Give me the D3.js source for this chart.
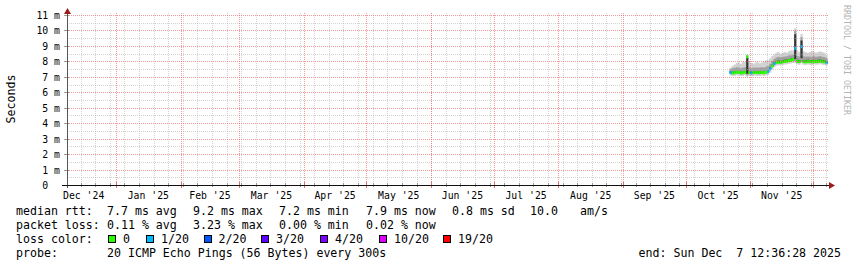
<!DOCTYPE html>
<html>
<head>
<meta charset="utf-8">
<script src="https://cdn.jsdelivr.net/npm/d3@7"></script>
<style>
html, body { margin: 0; padding: 0; background: #fff; }
svg { display: block; font-family: "DejaVu Sans Mono", monospace; }
text { white-space: pre; }
.txt { opacity: 0.999; }
</style>
</head>
<body>
<svg id="chart"></svg>
<script>
// graph window and first data day (UTC)
const graphStart = Date.UTC(2024, 11, 8, 6, 40);
const graphEnd = Date.UTC(2025, 11, 8, 10, 20);
const firstDay = Date.UTC(2025, 9, 22);

// daily values, ms (Oct 22 .. Dec 7 2025)
const median = [7.28,7.25,7.27,7.30,7.28,7.25,7.27,7.30,8.30,7.27,7.25,7.27,7.28,7.26,7.27,7.28,7.27,7.30,7.35,7.52,7.70,7.85,7.93,7.95,7.93,7.97,8.00,8.02,8.05,8.08,8.12,8.85,8.00,7.98,8.95,7.98,7.97,8.00,7.98,7.97,8.00,7.98,8.00,8.02,7.98,7.97,7.92];
const pingMin = [7.08,7.05,7.06,7.10,7.08,7.05,7.06,7.10,7.00,7.06,7.05,7.06,7.08,7.05,7.06,7.08,7.06,7.10,7.12,7.28,7.46,7.62,7.72,7.75,7.74,7.77,7.80,7.82,7.84,7.86,7.90,7.90,7.80,7.78,7.88,7.78,7.77,7.80,7.78,7.77,7.80,7.78,7.80,7.82,7.78,7.77,7.72];
const p20 = [7.20,7.17,7.19,7.22,7.20,7.17,7.19,7.22,7.10,7.19,7.17,7.19,7.20,7.18,7.19,7.20,7.19,7.22,7.27,7.44,7.62,7.77,7.85,7.87,7.85,7.89,7.92,7.94,7.97,8.00,8.04,8.02,7.92,7.90,8.02,7.90,7.89,7.92,7.90,7.89,7.92,7.90,7.92,7.94,7.90,7.89,7.84];
const p40 = [7.26,7.23,7.25,7.28,7.26,7.23,7.25,7.28,7.20,7.25,7.23,7.25,7.26,7.24,7.25,7.26,7.25,7.28,7.33,7.50,7.68,7.83,7.91,7.93,7.91,7.95,7.98,8.00,8.03,8.06,8.10,8.15,7.98,7.96,8.20,7.96,7.95,7.98,7.96,7.95,7.98,7.96,7.98,8.00,7.96,7.95,7.90];
const p60 = [7.35,7.32,7.34,7.37,7.35,7.32,7.34,7.37,8.22,7.34,7.32,7.34,7.35,7.33,7.34,7.35,7.34,7.37,7.43,7.60,7.78,7.93,8.02,8.05,8.03,8.07,8.10,8.12,8.15,8.18,8.22,9.75,8.10,8.08,9.35,8.08,8.07,8.10,8.08,8.07,8.10,8.08,8.10,8.12,8.08,8.07,8.02];
const p80 = [7.50,7.55,7.58,7.62,7.60,7.55,7.60,7.62,8.36,7.60,7.55,7.58,7.60,7.58,7.60,7.62,7.60,7.65,7.70,7.85,8.02,8.15,8.25,8.30,8.27,8.30,8.32,8.33,8.38,8.40,8.42,9.98,8.35,8.32,9.58,8.33,8.30,8.32,8.30,8.32,8.33,8.30,8.32,8.35,8.30,8.28,8.20];
const pingMax = [7.60,7.72,7.80,7.90,7.95,7.85,7.98,7.95,8.45,8.00,7.90,7.85,7.92,7.95,7.88,7.92,7.97,8.05,8.08,8.20,8.35,8.45,8.55,8.60,8.50,8.55,8.60,8.55,8.65,8.70,8.70,10.15,8.70,8.60,9.78,8.65,8.60,8.55,8.60,8.65,8.60,8.55,8.60,8.65,8.60,8.55,8.40];
const loss = [1,0,0,0,0,0,0,0,0,0,1,0,0,0,0,0,0,0,1,1,0,1,0,0,0,0,0,0,0,0,0,1,0,0,1,0,0,0,0,0,0,0,0,0,0,0,1];

const lossLabels = ["0", "1/20", "2/20", "3/20", "4/20", "10/20", "19/20"];
const lossColors = ["#26ff00", "#00b8ff", "#0059ff", "#5e00ff", "#7e00ff", "#dd00ff", "#ff0000"];

const yTicks = [0,1,2,3,4,5,6,7,8,9,10,11];
const yTickLabels = ["0  ","1 m","2 m","3 m","4 m","5 m","6 m","7 m","8 m","9 m","10 m","11 m"];

const rttStats = ["7.7 ms avg", "9.2 ms max", "7.2 ms min", "7.9 ms now", "0.8 ms sd", "10.0", "am/s"];
const lossStats = ["0.11 % avg", "3.23 % max", "0.00 % min", "0.02 % now"];
const probeText = "20 ICMP Echo Pings (56 Bytes) every 300s";
const endText = "end: Sun Dec  7 12:36:28 2025";

// layout
const W = 857, H = 267;
const plot = {left: 66.5, right: 828.5, top: 15, bottom: 185};
const statCols = [107, 193, 279, 366, 452, 530, 580];
const boxCols = [108, 146, 203.5, 261, 320, 379, 443];
const rows = [215, 229, 243, 257];
const legendFont = "11.6px";
const axisFont = "9.8px";

const svg = d3.select("#chart").attr("width", W).attr("height", H);

const x = d3.scaleUtc().domain([graphStart, graphEnd]).range([plot.left, plot.right]);
const y = d3.scaleLinear().domain([0, 11]).range([plot.bottom, plot.top]);
const px = v => Math.round(v) + 0.5;

// samples, with one closing point for the step curve
const samples = median.map((m, i) => ({
    t: d3.utcDay.offset(new Date(firstDay), i),
    t1: d3.utcDay.offset(new Date(firstDay), i + 1),
    median: m, min: pingMin[i], p20: p20[i], p40: p40[i], p60: p60[i], p80: p80[i], max: pingMax[i], loss: loss[i]
}));
const stepData = samples.concat([{...samples[samples.length - 1], t: samples[samples.length - 1].t1}]);

// smoke
const bands = [
    {lo: "min", hi: "max", color: "#d2d2d2"},
    {lo: "p20", hi: "p80", color: "#a0a0a0"},
    {lo: "p40", hi: "p60", color: "#333333"}
];
const smoke = svg.append("g");
bands.forEach(b => {
    smoke.append("path")
        .datum(stepData)
        .attr("fill", b.color)
        .attr("d", d3.area()
            .curve(d3.curveStepAfter)
            .x(d => x(d.t))
            .y0(d => y(d[b.lo]))
            .y1(d => y(d[b.hi])));
});

// median marker, coloured by loss
svg.append("g").selectAll("rect")
    .data(samples)
    .join("rect")
    .attr("x", d => x(d.t))
    .attr("width", d => x(d.t1) - x(d.t))
    .attr("y", d => y(d.median) - 1.5)
    .attr("height", 3)
    .attr("fill", d => lossColors[d.loss]);

// grid (rrdtool paints it over the data)
const grid = svg.append("g").attr("shape-rendering", "crispEdges").attr("stroke-dasharray", "1,1");
const weeks = d3.utcSunday.range(new Date(graphStart), new Date(graphEnd));
const months = d3.utcMonth.range(new Date(graphStart), new Date(graphEnd));
const minorY = d3.range(0.5, 11, 1);
const gx0 = Math.ceil(plot.left), gx1 = Math.floor(plot.right);
const minorColor = "rgba(175,175,175,0.55)";
const majorColor = "rgba(235,85,85,0.6)";

grid.selectAll(".vmin").data(weeks).join("line")
    .attr("x1", d => px(x(d))).attr("x2", d => px(x(d)))
    .attr("y1", 13).attr("y2", plot.bottom)
    .attr("stroke", minorColor);
grid.selectAll(".hmin").data(minorY).join("line")
    .attr("x1", gx0).attr("x2", gx1)
    .attr("y1", d => px(y(d))).attr("y2", d => px(y(d)))
    .attr("stroke", minorColor);
grid.selectAll(".vmaj").data(months).join("line")
    .attr("x1", d => px(x(d))).attr("x2", d => px(x(d)))
    .attr("y1", 13).attr("y2", plot.bottom)
    .attr("stroke", majorColor);
grid.selectAll(".hmaj").data(yTicks.slice(1)).join("line")
    .attr("x1", gx0).attr("x2", gx1)
    .attr("y1", d => px(y(d))).attr("y2", d => px(y(d)))
    .attr("stroke", majorColor);

// axes
const axes = svg.append("g").attr("shape-rendering", "crispEdges");
axes.selectAll(".ytick").data(yTicks).join("line")
    .attr("x1", 64).attr("x2", 69)
    .attr("y1", d => px(y(d))).attr("y2", d => px(y(d)))
    .attr("stroke", "#999");
axes.selectAll(".xtick").data(weeks).join("line")
    .attr("x1", d => px(x(d))).attr("x2", d => px(x(d)))
    .attr("y1", plot.bottom - 2).attr("y2", plot.bottom + 2)
    .attr("stroke", "#999");
axes.selectAll(".xmtick").data(months).join("line")
    .attr("x1", d => px(x(d))).attr("x2", d => px(x(d)))
    .attr("y1", plot.bottom - 3).attr("y2", plot.bottom + 3)
    .attr("stroke", "#e07070");
axes.append("line")
    .attr("x1", px(plot.left)).attr("x2", px(plot.left))
    .attr("y1", plot.bottom + 3).attr("y2", 12)
    .attr("stroke", "#555");
axes.append("line")
    .attr("x1", 62).attr("x2", 830)
    .attr("y1", px(plot.bottom)).attr("y2", px(plot.bottom))
    .attr("stroke", "#111");
svg.append("path")
    .attr("d", `M${px(plot.left)},8L${px(plot.left) - 3.5},14L${px(plot.left) + 3.5},14Z`)
    .attr("fill", "#9c1c1c");
svg.append("path")
    .attr("d", `M835,${px(plot.bottom)}L829,${px(plot.bottom) - 3.5}L829,${px(plot.bottom) + 3.5}Z`)
    .attr("fill", "#9c1c1c");

// y labels
svg.append("g").attr("class", "txt").selectAll("text").data(yTicks).join("text")
    .attr("x", 60)
    .attr("y", d => y(d) + 4)
    .attr("text-anchor", "end")
    .style("font-size", axisFont)
    .text((d, i) => yTickLabels[i]);

// month labels centred on each month
const monthFmt = d3.utcFormat("%b '%y");
const monthLabels = d3.utcMonth.range(d3.utcMonth.floor(new Date(graphStart)), new Date(graphEnd))
    .map(m => ({m, cx: (x(m) + x(d3.utcMonth.offset(m, 1))) / 2}))
    .filter(d => d.cx > plot.left && d.cx < plot.right);
svg.append("g").attr("class", "txt").selectAll("text").data(monthLabels).join("text")
    .attr("x", d => d.cx)
    .attr("y", plot.bottom + 13.5)
    .attr("text-anchor", "middle")
    .style("font-size", axisFont)
    .text(d => monthFmt(d.m));

// vertical titles
svg.append("text")
    .attr("transform", "translate(15,99) rotate(-90)")
    .attr("text-anchor", "middle")
    .style("font-size", legendFont)
    .text("Seconds");
svg.append("text")
    .attr("transform", "translate(844,5) rotate(90)")
    .style("font-size", "8.3px")
    .attr("fill", "#b4b4b4")
    .text("RRDTOOL / TOBI OETIKER");

// legend
const legend = svg.append("g").attr("class", "txt").style("font-size", legendFont);
legend.append("text").attr("x", 16).attr("y", rows[0]).text("median rtt:");
legend.selectAll(".rtt").data(rttStats).join("text")
    .attr("x", (d, i) => statCols[i]).attr("y", rows[0]).text(d => d);
legend.append("text").attr("x", 16).attr("y", rows[1]).text("packet loss:");
legend.selectAll(".pl").data(lossStats).join("text")
    .attr("x", (d, i) => statCols[i]).attr("y", rows[1]).text(d => d);
legend.append("text").attr("x", 16).attr("y", rows[2]).text("loss color:");
legend.selectAll("rect").data(lossColors).join("rect")
    .attr("x", (d, i) => boxCols[i] + 0.5).attr("y", rows[2] - 7.5)
    .attr("width", 7).attr("height", 7)
    .attr("fill", d => d).attr("stroke", "#000").attr("stroke-width", 1)
    .attr("shape-rendering", "crispEdges");
legend.selectAll(".ll").data(lossLabels).join("text")
    .attr("x", (d, i) => boxCols[i] + 15).attr("y", rows[2]).text(d => d);
legend.append("text").attr("x", 16).attr("y", rows[3]).text("probe:");
legend.append("text").attr("x", statCols[0]).attr("y", rows[3]).text(probeText);
legend.append("text").attr("x", 841).attr("y", rows[3]).attr("text-anchor", "end").text(endText);
</script>
</body>
</html>
